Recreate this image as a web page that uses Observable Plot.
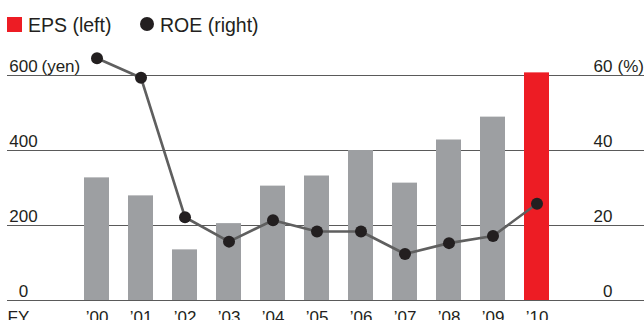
<!DOCTYPE html>
<html>
<head>
<meta charset="utf-8">
<script src="https://cdn.jsdelivr.net/npm/d3@7"></script>
<script src="https://cdn.jsdelivr.net/npm/@observablehq/plot@0.6"></script>
<style>
  body { margin: 0; background: #fff; font-family: "Liberation Sans", Arial, sans-serif; color: #231f20; }
  #wrap { position: relative; width: 644px; height: 320px; overflow: hidden; }
  #legend { position: relative; height: 40px; font-size: 19.5px; }
  #legend .sw { position: absolute; top: 17px; left: 7px; width: 15px; height: 15px; background: #ed1c24; }
  #legend .t1 { position: absolute; left: 28px; top: 14px; }
  #legend .dot { position: absolute; top: 17px; left: 140px; width: 14px; height: 14px; border-radius: 50%; background: #231f20; }
  #legend .t2 { position: absolute; left: 160px; top: 14px; }
  svg { display: block; }
</style>
</head>
<body>
<div id="wrap">
  <div id="legend"><span class="sw"></span><span class="t1">EPS (left)</span><span class="dot"></span><span class="t2">ROE (right)</span></div>
  <div id="chart"></div>
</div>
<script>
const years = ["’00","’01","’02","’03","’04","’05","’06","’07","’08","’09","’10"];
const eps = [327, 279, 135, 205, 305, 332, 400, 313, 428, 489, 607];
const roe = [64.6, 59.4, 22.2, 15.7, 21.4, 18.4, 18.4, 12.4, 15.3, 17.2, 25.8];
const leftTicks = [0, 200, 400, 600];
const rightTicks = [0, 20, 40, 60];

const data = years.map((y, i) => ({year: y, eps: eps[i], roe: roe[i], latest: i === years.length - 1}));
const ink = "#231f20";
const gridColor = "#5a5a5a";

const chart = Plot.plot({
  width: 644,
  height: 280,
  marginTop: 35,
  marginBottom: 20,
  marginLeft: 65,
  marginRight: 76,
  style: {fontFamily: "Liberation Sans, Arial, sans-serif", color: ink, background: "transparent"},
  x: {type: "band", domain: years, padding: 0.432, round: false, axis: null},
  y: {domain: [0, 600], axis: null},
  marks: [
    Plot.ruleY(leftTicks, {y: d => d, stroke: gridColor, strokeWidth: 1.2, insetLeft: -58, insetRight: -76}),
    Plot.barY(data, {x: "year", y: "eps", fill: d => d.latest ? "#ed1c24" : "#9d9fa2"}),
    Plot.line(data, {x: "year", y: d => d.roe * 10, stroke: "#5f5f5f", strokeWidth: 2.6}),
    Plot.dot(data, {x: "year", y: d => d.roe * 10, r: 6, fill: ink, stroke: "none"}),
    // left axis labels
    Plot.text(leftTicks, {y: d => d, text: d => String(d), frameAnchor: "left", dx: -42, dy: -4, textAnchor: "middle", lineAnchor: "bottom", fontSize: 17, fill: ink}),
    Plot.text([600], {y: d => d, text: () => "(yen)", frameAnchor: "left", dx: -24, dy: -4, textAnchor: "start", lineAnchor: "bottom", fontSize: 17, fill: ink}),
    // right axis labels
    Plot.text(rightTicks, {y: d => d * 10, text: d => String(d), frameAnchor: "right", dx: 44, dy: -4, textAnchor: "end", lineAnchor: "bottom", fontSize: 17, fill: ink}),
    Plot.text([60], {y: d => d * 10, text: () => "(%)", frameAnchor: "right", dx: 49, dy: -4, textAnchor: "start", lineAnchor: "bottom", fontSize: 17, fill: ink}),
    // x labels
    Plot.text(data, {x: "year", text: "year", frameAnchor: "bottom", dy: 10, lineAnchor: "top", fontSize: 17, fill: ink}),
    Plot.text(["FY"], {text: d => d, frameAnchor: "bottom-left", dx: -58, dy: 10, lineAnchor: "top", textAnchor: "start", fontSize: 17, fill: ink})
  ]
});
document.getElementById("chart").appendChild(chart);
</script>
</body>
</html>
